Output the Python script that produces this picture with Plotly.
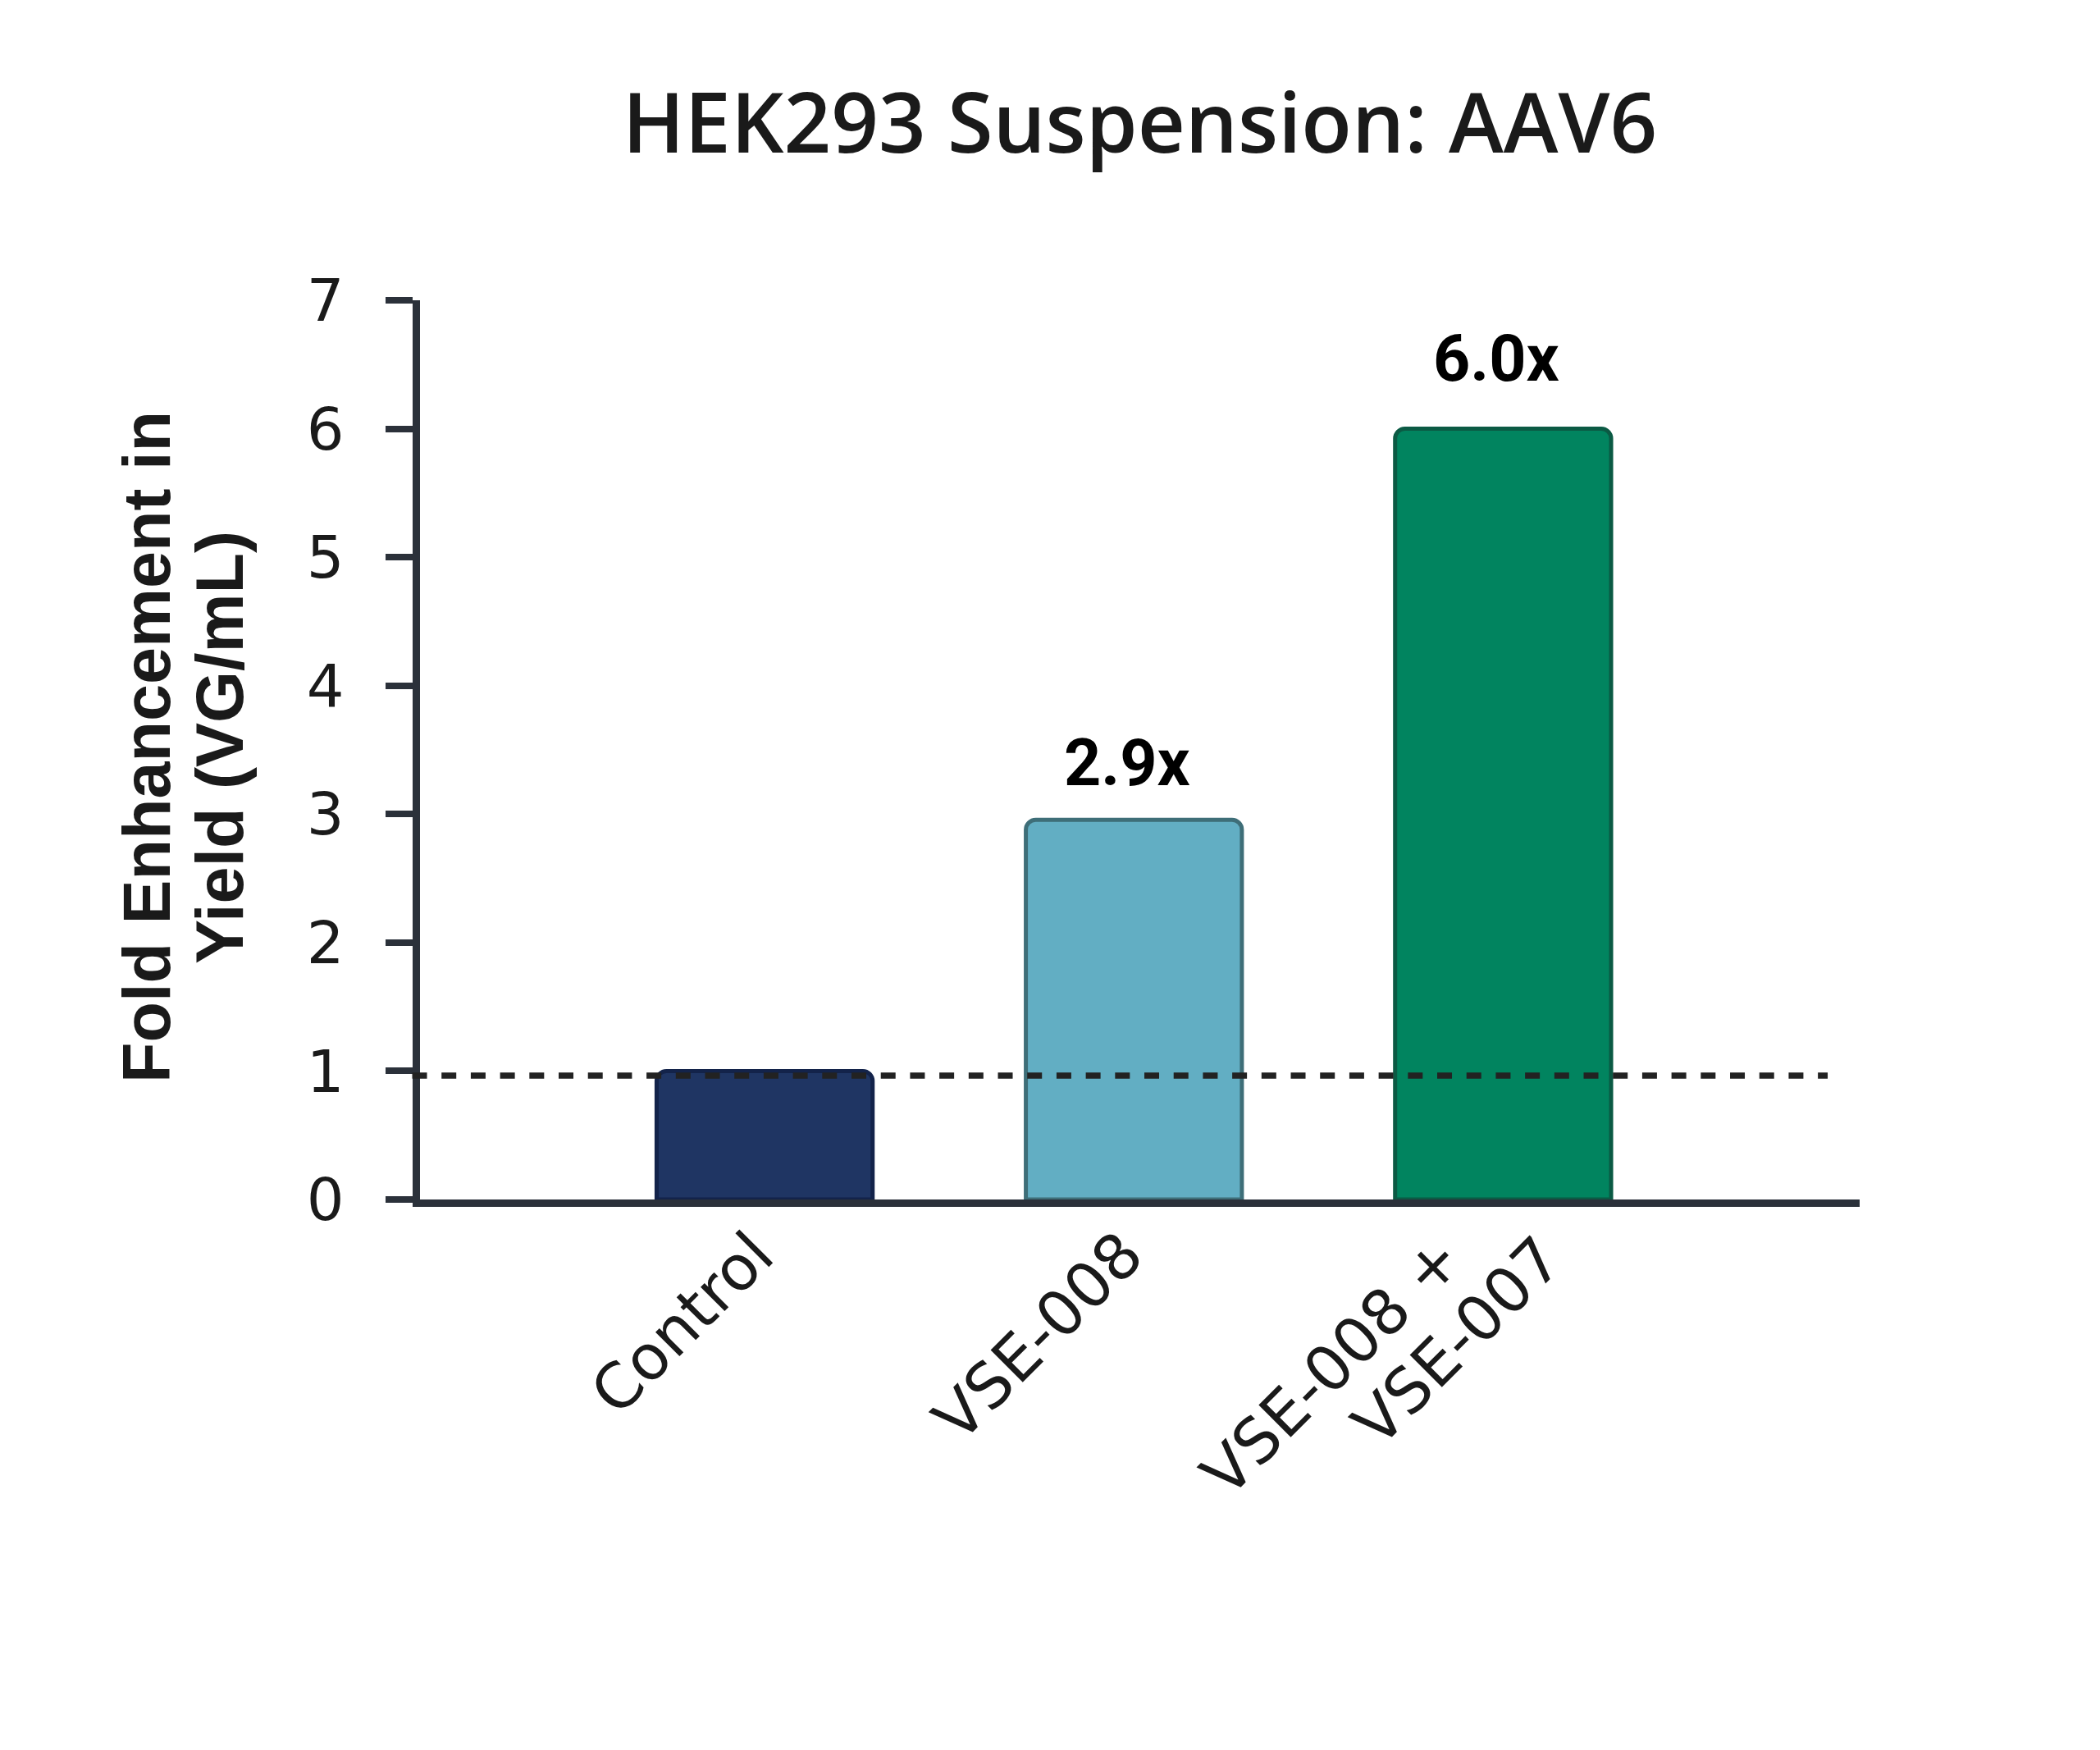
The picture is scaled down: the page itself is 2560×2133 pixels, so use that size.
import plotly.graph_objects as go

# ---- data ----
categories = ["Control", "VSE-008", "VSE-008 +<br>VSE-007"]
values = [1.0, 2.955, 6.0]
value_labels = ["", "2.9x", "6.0x"]
reference_level = 0.965
y_ticks = [0, 1, 2, 3, 4, 5, 6, 7]

title_text = "HEK293 Suspension: AAV6"
ytitle_lines = ["Fold Enhancement in", "Yield (VG/mL)"]

# ---- style ----
fill_colors = ["#1F3563", "#62AEC3", "#01845F"]
edge_colors = ["#13234A", "#3E6E78", "#0B5A44"]
axis_color = "#2B313A"
text_color = "#1A1A1A"

fig = go.Figure()
fig.add_trace(go.Bar(
    x=categories, y=values,
    width=0.585,
    marker=dict(color=fill_colors, line=dict(color=edge_colors, width=5), cornerradius=12),
    showlegend=False, hoverinfo="skip",
))

# value labels above bars
label_shift = [0, 21, 38]
for i, (cat, v, lab) in enumerate(zip(categories, values, value_labels)):
    if lab:
        fig.add_annotation(x=cat, y=v, xref="x", yref="y", text=lab, showarrow=False,
                           yanchor="bottom", xanchor="center", yshift=label_shift[i], xshift=-8,
                           font=dict(family="Roboto", size=79, color="#000000", weight="bold"))

# rotated category labels (one annotation per text line)
single_line_shift = [(31, -19)]
multi_line_shift = [(-30, -24), (92, -25)]
for cat in categories:
    lines = cat.split("<br>")
    shifts = single_line_shift if len(lines) == 1 else multi_line_shift
    for line, (xs, ys) in zip(lines, shifts):
        fig.add_annotation(x=cat, y=0, xref="x", yref="y", text=line, showarrow=False,
                           textangle=-45, xanchor="right", yanchor="top",
                           xshift=xs, yshift=ys,
                           font=dict(family="DejaVu Sans", size=76, color=text_color))

# y-axis title as two rotated lines
for line, xs in zip(ytitle_lines, [-333, -244]):
    fig.add_annotation(x=0, y=0.5, xref="paper", yref="paper", text=line, showarrow=False,
                       textangle=-90, xanchor="center", yanchor="middle", xshift=xs, yshift=3,
                       font=dict(family="Liberation Sans", size=81, color=text_color, weight="bold"))

# dashed reference line
fig.add_shape(type="line", xref="paper", yref="y", x0=-0.0054, x1=0.9778,
              y0=reference_level, y1=reference_level,
              line=dict(color="#222222", width=7.5, dash="18px,17.7px"), layer="above")

fig.update_layout(
    width=2560, height=2133,
    margin=dict(l=512, r=293, t=366, b=671, pad=0),
    paper_bgcolor="white", plot_bgcolor="white",
    title=dict(text=title_text, x=0.5, xref="paper", xanchor="center",
               y=1 - 186 / 2133, yref="container", yanchor="bottom",
               font=dict(family="Open Sans", size=101, color=text_color, weight=600)),
    bargap=0.4,
)
fig.update_xaxes(
    type="category", range=[-0.9333, 2.9656],
    showline=True, linecolor=axis_color, linewidth=9,
    ticks="", showgrid=False, zeroline=False, showticklabels=False,
)
fig.update_yaxes(
    range=[0, 7], tickvals=y_ticks,
    showline=True, linecolor=axis_color, linewidth=9,
    ticks="outside", ticklen=33, tickwidth=8, tickcolor=axis_color,
    showgrid=False, zeroline=False,
    ticklabelstandoff=36,
    tickfont=dict(family="DejaVu Sans", size=72, color=text_color),
)

fig.write_html("out.html", config={"displayModeBar": False},
               post_script="document.body.style.margin='0';")
